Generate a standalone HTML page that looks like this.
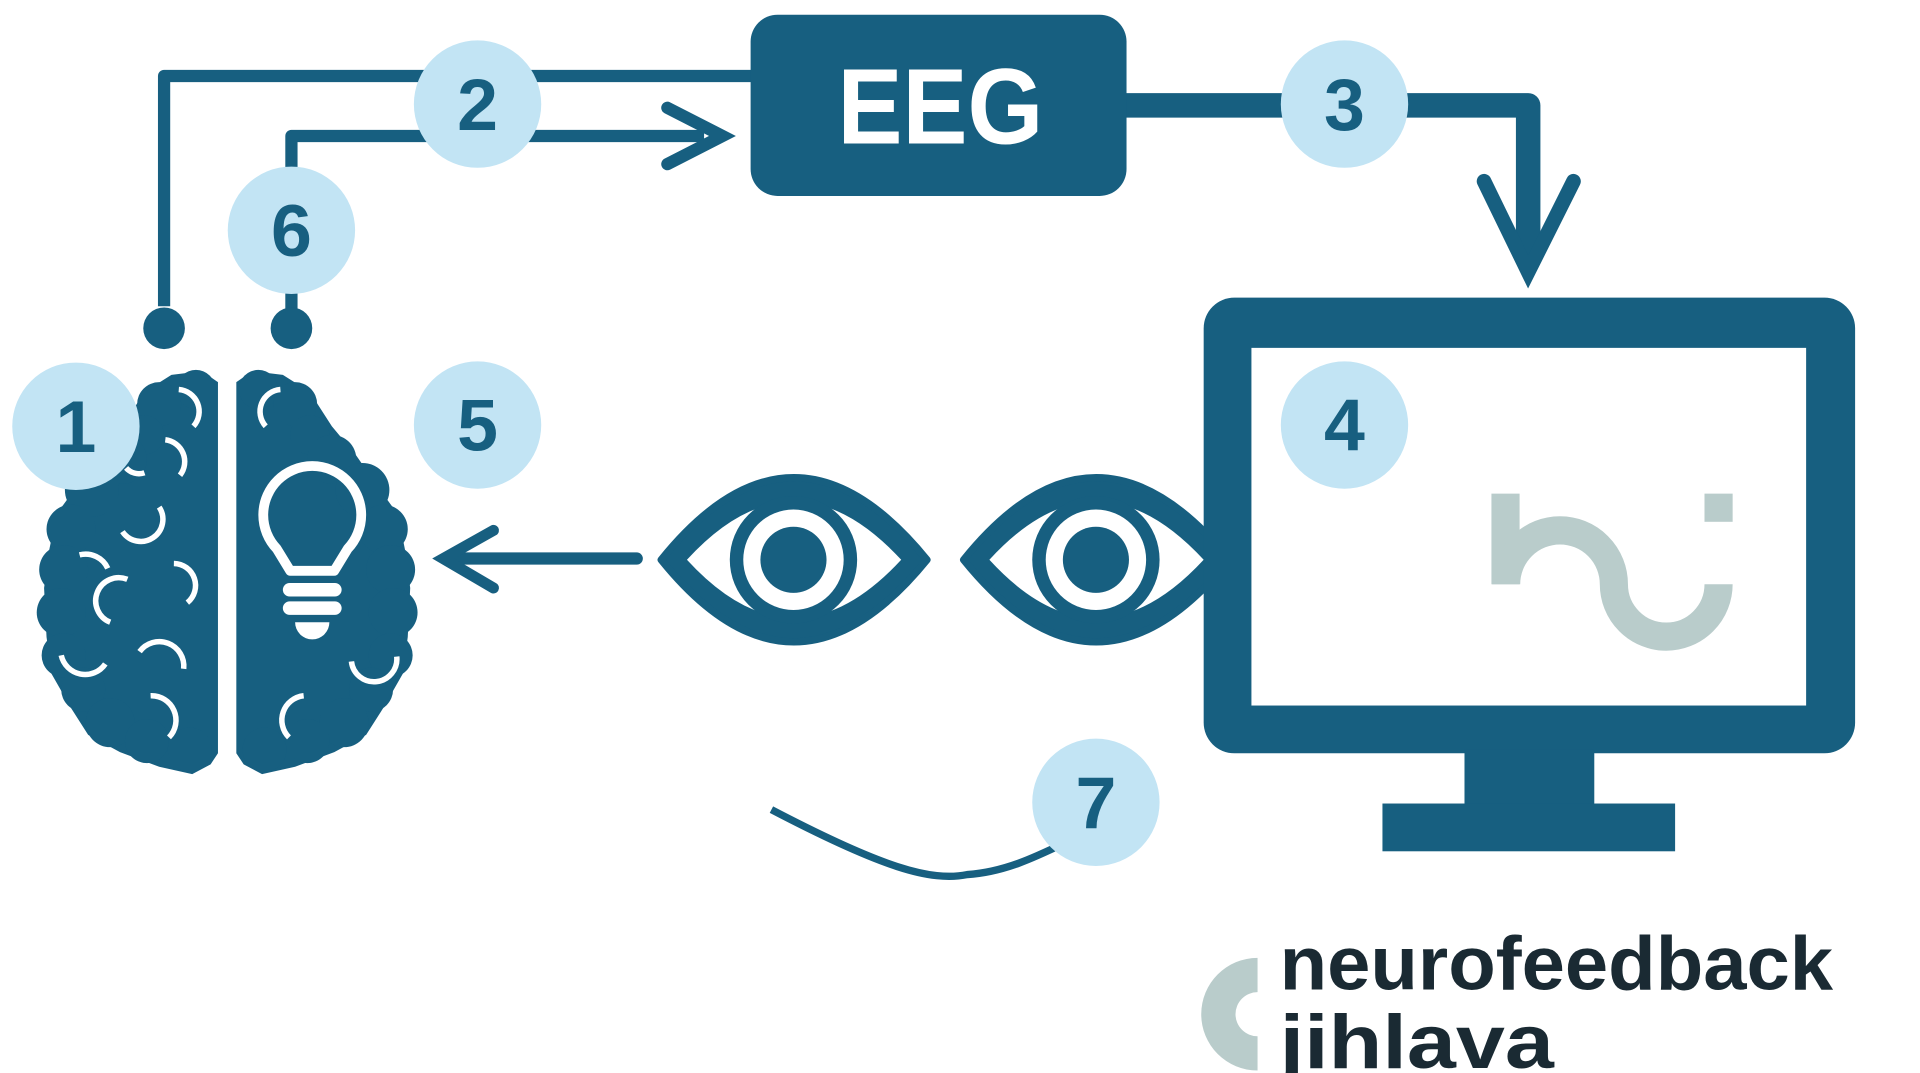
<!DOCTYPE html>
<html><head><meta charset="utf-8"><style>
html,body{margin:0;padding:0;background:#fff;}
svg{display:block;}
</style></head><body>
<svg width="1920" height="1073" viewBox="0 0 1568 876" preserveAspectRatio="none" xmlns="http://www.w3.org/2000/svg">
<defs>
<style>
.d{fill:#175f80}
.l{fill:#c2e4f4}
.n{font-family:"Liberation Sans",sans-serif;font-weight:bold;font-size:60px;fill:#175f80;text-anchor:middle}
.w{fill:none;stroke:#fff;stroke-width:4.5}
</style>
</defs>
<!-- connectors -->
<path d="M134,250 V62 H620" fill="none" stroke="#175f80" stroke-width="10" stroke-linejoin="round"/>
<path d="M238,252 V111 H575" fill="none" stroke="#175f80" stroke-width="10" stroke-linejoin="round"/>
<path d="M545,88 L590,111 L545,134" fill="none" stroke="#175f80" stroke-width="10" stroke-linecap="round" stroke-linejoin="miter"/>
<circle class="d" cx="134" cy="268" r="17"/>
<circle class="d" cx="238" cy="268" r="17"/>
<path d="M915,86 H1248 V212" fill="none" stroke="#175f80" stroke-width="20" stroke-linejoin="round"/>
<path d="M1212,148 L1248,222 L1285,148" fill="none" stroke="#175f80" stroke-width="12" stroke-linecap="round" stroke-linejoin="miter"/>
<!-- EEG -->
<rect class="d" x="613" y="12" width="307" height="148" rx="22"/>
<text x="768" y="117" font-family="Liberation Sans,sans-serif" font-weight="bold" font-size="88" fill="#fff" text-anchor="middle" textLength="168" lengthAdjust="spacingAndGlyphs">EEG</text>
<!-- eyes -->
<g>
<path class="d" d="M540,457 Q648,323 757,457 Q648,591 540,457 Z" stroke="#175f80" stroke-width="6" stroke-linejoin="round"/>
<path d="M561,457 Q648,362 736,457 Q648,552 561,457 Z" fill="#fff"/>
<circle class="d" cx="648" cy="457" r="52"/>
<circle cx="648" cy="457" r="41" fill="#fff"/>
<circle class="d" cx="648" cy="457" r="27"/>
</g>
<g transform="translate(247,0)">
<path class="d" d="M540,457 Q648,323 757,457 Q648,591 540,457 Z" stroke="#175f80" stroke-width="6" stroke-linejoin="round"/>
<path d="M561,457 Q648,362 736,457 Q648,552 561,457 Z" fill="#fff"/>
<circle class="d" cx="648" cy="457" r="52"/>
<circle cx="648" cy="457" r="41" fill="#fff"/>
<circle class="d" cx="648" cy="457" r="27"/>
</g>
<!-- monitor -->
<rect class="d" x="983" y="243" width="532" height="372" rx="25"/>
<rect x="1022" y="284" width="453" height="292" fill="#fff"/>
<rect class="d" x="1196" y="612" width="106" height="46"/>
<rect class="d" x="1129" y="656" width="239" height="39"/>
<!-- hi logo -->
<rect x="1218" y="403" width="23" height="74" fill="#b9cccb"/>
<rect x="1392" y="403" width="23" height="23" fill="#b9cccb"/>
<path d="M1230,477 A44,44 0 0 1 1318,477 A42.5,42.5 0 0 0 1403.5,477" fill="none" stroke="#b9cccb" stroke-width="23"/>
<!-- left arrow -->
<path d="M520,456 H375" stroke="#175f80" stroke-width="10" stroke-linecap="round"/>
<path d="M403,433 L362,456 L403,480" fill="none" stroke="#175f80" stroke-width="9" stroke-linecap="round"/>
<!-- smile -->
<path d="M630,661 C720,708 760,720 790,714 C820,712 845,700 870,688" fill="none" stroke="#175f80" stroke-width="6"/>
<!-- brain left -->
<g class="d">
<path d="M178,312 L165,303 L140,306 L118,320 L100,348 L80,372 L62,398 L46,420 L40,450 L36,480 L38,520 L42,550 L58,578 L72,600 L98,614 L130,626 L157,632 L172,624 L178,615 Z"/>
<circle cx="160" cy="318" r="16"/><circle cx="130" cy="330" r="18"/><circle cx="118" cy="355" r="16"/>
<circle cx="100" cy="375" r="20"/><circle cx="75" cy="400" r="22"/><circle cx="58" cy="432" r="20"/>
<circle cx="52" cy="465" r="20"/><circle cx="50" cy="500" r="20"/><circle cx="52" cy="535" r="18"/>
<circle cx="68" cy="563" r="18"/><circle cx="90" cy="590" r="20"/><circle cx="120" cy="605" r="18"/><circle cx="155" cy="612" r="18"/>
</g>
<g class="w">
<path d="M146,318 A18,18 0 0 1 158,348"/>
<path d="M135,359 A18,18 0 0 1 147,388"/>
<path d="M103,382 A14,14 0 0 0 118,386"/>
<path d="M130,414 A18,18 0 0 1 100,434"/>
<path d="M65,453 A20,20 0 0 1 88,464"/>
<path d="M142,460 A18,18 0 0 1 153,492"/>
<path d="M104,473 A18,18 0 0 0 90,508"/>
<path d="M50,535 A20,20 0 0 0 86,542"/>
<path d="M114,532 A20,20 0 0 1 150,546"/>
<path d="M123,568 A20,20 0 0 1 138,602"/>
</g>
<!-- brain right -->
<g class="d" transform="translate(371,0) scale(-1,1)">
<path d="M178,312 L165,303 L140,306 L118,320 L100,348 L80,372 L62,398 L46,420 L40,450 L36,480 L38,520 L42,550 L58,578 L72,600 L98,614 L130,626 L157,632 L172,624 L178,615 Z"/>
<circle cx="160" cy="318" r="16"/><circle cx="130" cy="330" r="18"/><circle cx="118" cy="355" r="16"/>
<circle cx="100" cy="375" r="20"/><circle cx="75" cy="400" r="22"/><circle cx="58" cy="432" r="20"/>
<circle cx="52" cy="465" r="20"/><circle cx="50" cy="500" r="20"/><circle cx="52" cy="535" r="18"/>
<circle cx="68" cy="563" r="18"/><circle cx="90" cy="590" r="20"/><circle cx="120" cy="605" r="18"/><circle cx="155" cy="612" r="18"/>
</g>
<g class="w">
<path d="M229,318 A18,18 0 0 0 217,348"/>
<path d="M287,540 A18,18 0 0 0 324,536"/>
<path d="M248,568 A20,20 0 0 0 236,602"/>
</g>
<!-- bulb -->
<path d="M237,466 L226,448 A40,40 0 1 1 284,448 L273,466 Z" fill="none" stroke="#fff" stroke-width="8" stroke-linejoin="round"/>
<rect x="231" y="476" width="48" height="11" rx="5.5" fill="#fff"/>
<rect x="231" y="491" width="48" height="11" rx="5.5" fill="#fff"/>
<path d="M241,508 H269 A14,14 0 0 1 241,508 Z" fill="#fff"/>
<!-- number circles -->
<circle class="l" cx="390" cy="85" r="52"/><text class="n" x="390" y="106">2</text>
<circle class="l" cx="238" cy="188" r="52"/><text class="n" x="238" y="209">6</text>
<circle class="l" cx="1098" cy="85" r="52"/><text class="n" x="1098" y="106">3</text>
<circle class="l" cx="62" cy="348" r="52"/><text class="n" x="62" y="369">1</text>
<circle class="l" cx="390" cy="347" r="52"/><text class="n" x="390" y="368">5</text>
<circle class="l" cx="1098" cy="347" r="52"/><text class="n" x="1098" y="368">4</text>
<circle class="l" cx="895" cy="655" r="52"/><text class="n" x="895" y="676">7</text>
<!-- bottom logo -->
<path d="M1027,782 A46,46 0 0 0 1027,874 L1027,846 A18,18 0 0 1 1027,810 Z" fill="#b9cccb"/>
<text x="1045" y="808" font-family="Liberation Sans,sans-serif" font-weight="bold" font-size="62" fill="#1a2a33" textLength="452" lengthAdjust="spacingAndGlyphs">neurofeedback</text>
<text x="1045" y="872" font-family="Liberation Sans,sans-serif" font-weight="bold" font-size="62" fill="#1a2a33" textLength="224" lengthAdjust="spacingAndGlyphs">jihlava</text>
</svg>
</body></html>
